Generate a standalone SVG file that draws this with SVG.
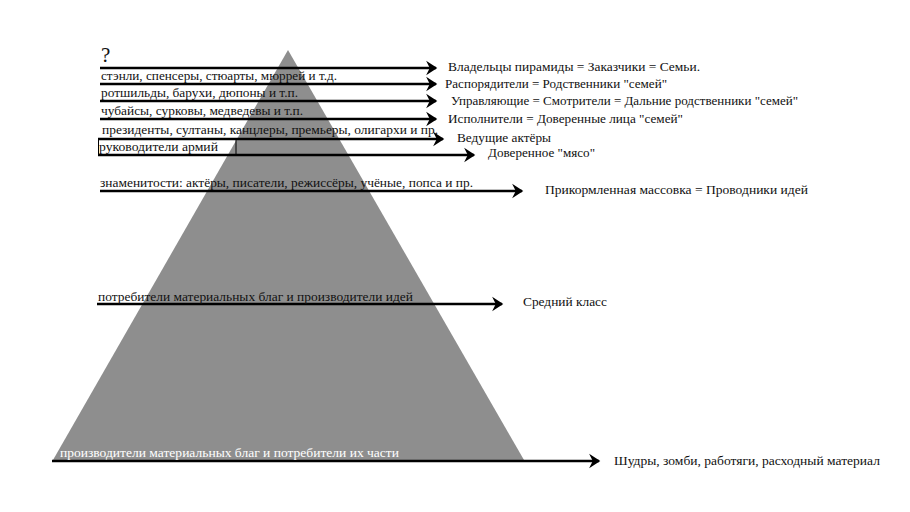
<svg xmlns="http://www.w3.org/2000/svg" width="910" height="512" viewBox="0 0 910 512">
<style>
text{font-family:'Liberation Serif','Times New Roman','DejaVu Serif',serif}
.l{font-size:13px;fill:#111}
.r{font-size:13.5px;fill:#111}
.w{font-size:12.5px;fill:#fff}
.a{stroke:#000;stroke-width:2.6;fill:none;marker-end:url(#ah)}
</style>
<defs>
<marker id="ah" markerWidth="5" markerHeight="6" refX="4" refY="3" orient="auto" markerUnits="strokeWidth">
<path d="M0.2,0.2 L4.5,3 L0.2,5.8 L1.6,3 Z" fill="#000"/>
</marker>
</defs>
<rect width="910" height="512" fill="#fff"/>
<g id="pyramid">
<polygon points="288,50 524,460 53,460" fill="#8e8e8e"/>
</g>
<g id="connectors">
<line class="a" x1="100" y1="68" x2="436" y2="68"/>
<line class="a" x1="100" y1="84" x2="436" y2="84"/>
<line class="a" x1="100" y1="101" x2="436" y2="101"/>
<line class="a" x1="100" y1="119" x2="436" y2="119"/>
<line class="a" x1="98" y1="139" x2="443" y2="139"/>
<line class="a" x1="98" y1="155" x2="474" y2="155"/>
<line class="a" x1="100" y1="191" x2="522" y2="191"/>
<line class="a" x1="97" y1="304" x2="502" y2="304"/>
<line class="a" x1="52" y1="461" x2="599" y2="461"/>
<path d="M98.5,139 V155 M236,139 V155" stroke="#000" stroke-width="1" fill="none"/>
</g>
<g id="level0">
<text x="101" y="62" font-size="21" fill="#111">?</text>
<text class="r" x="448" y="71" textLength="252" lengthAdjust="spacingAndGlyphs">Владельцы пирамиды = Заказчики = Семьи.</text>
</g>
<g id="level1">
<text class="l" x="101" y="80" textLength="236" lengthAdjust="spacingAndGlyphs">стэнли, спенсеры, стюарты, мюррей и т.д.</text>
<text class="r" x="445" y="88" textLength="222" lengthAdjust="spacingAndGlyphs">Распорядители = Родственники "семей"</text>
</g>
<g id="level2">
<text class="l" x="101" y="97" textLength="197" lengthAdjust="spacingAndGlyphs">ротшильды, барухи, дюпоны и т.п.</text>
<text class="r" x="451" y="105" textLength="347" lengthAdjust="spacingAndGlyphs">Управляющие = Смотрители = Дальние родственники "семей"</text>
</g>
<g id="level3">
<text class="l" x="101" y="115" textLength="202" lengthAdjust="spacingAndGlyphs">чубайсы, сурковы, медведевы и т.п.</text>
<text class="r" x="448" y="123" textLength="235" lengthAdjust="spacingAndGlyphs">Исполнители = Доверенные лица "семей"</text>
</g>
<g id="level4">
<text class="l" x="102" y="134" textLength="336" lengthAdjust="spacingAndGlyphs">президенты, султаны, канцлеры, премьеры, олигархи и пр.</text>
<text class="r" x="457" y="142" textLength="94" lengthAdjust="spacingAndGlyphs">Ведущие актёры</text>
</g>
<g id="level5">
<text class="l" x="99" y="151" textLength="119" lengthAdjust="spacingAndGlyphs">руководители армий</text>
<text class="r" x="488" y="157" textLength="107" lengthAdjust="spacingAndGlyphs">Доверенное "мясо"</text>
</g>
<g id="level6">
<text class="l" x="100" y="187" textLength="373" lengthAdjust="spacingAndGlyphs">знаменитости: актёры, писатели, режиссёры, учёные, попса и пр.</text>
<text class="r" x="545" y="194" textLength="263" lengthAdjust="spacingAndGlyphs">Прикормленная массовка = Проводники идей</text>
</g>
<g id="level7">
<text class="l" x="98" y="301" textLength="315" lengthAdjust="spacingAndGlyphs">потребители материальных благ и производители идей</text>
<text class="r" x="523" y="306" textLength="84" lengthAdjust="spacingAndGlyphs">Средний класс</text>
</g>
<g id="level8">
<text class="w" x="60" y="457" textLength="339" lengthAdjust="spacingAndGlyphs">производители материальных благ и потребители их части</text>
<text class="r" x="614" y="465" textLength="266" lengthAdjust="spacingAndGlyphs">Шудры, зомби, работяги, расходный материал</text>
</g>
</svg>
